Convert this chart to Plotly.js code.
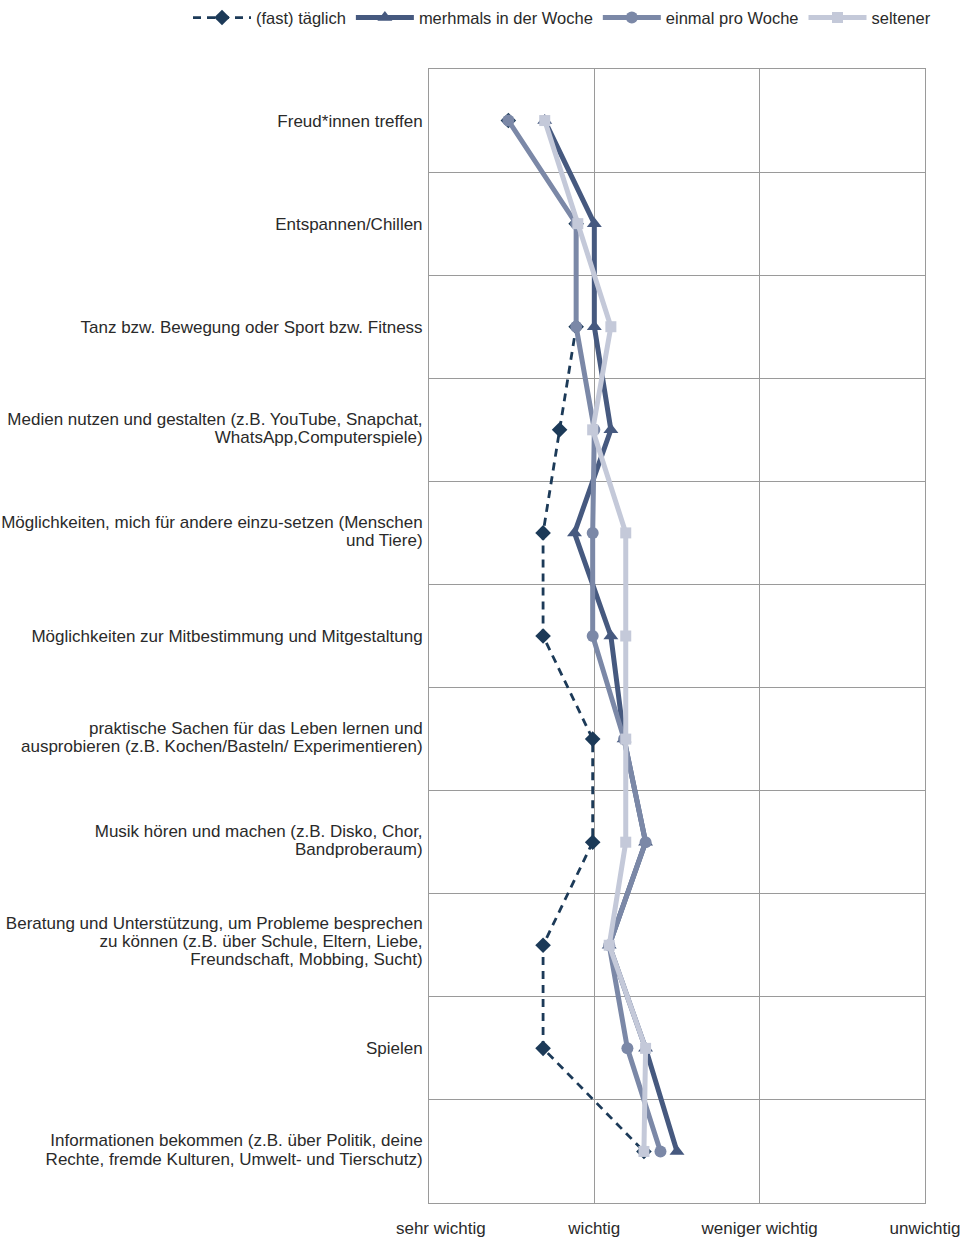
<!DOCTYPE html>
<html>
<head>
<meta charset="utf-8">
<script src="https://cdn.plot.ly/plotly-3.0.1.min.js"></script>
<style>
html,body{margin:0;padding:0;background:#fff;}
#chart{width:964px;height:1240px;}
</style>
</head>
<body>
<div id="chart"></div>
<script>
const categories = [
  "Freud*innen treffen",
  "Entspannen/Chillen",
  "Tanz bzw. Bewegung oder Sport bzw. Fitness",
  "Medien nutzen und gestalten (z.B. YouTube, Snapchat,<br>WhatsApp,Computerspiele)",
  "Möglichkeiten, mich für andere einzu-setzen (Menschen<br>und Tiere)",
  "Möglichkeiten zur Mitbestimmung und Mitgestaltung",
  "praktische Sachen für das Leben lernen und<br>ausprobieren (z.B. Kochen/Basteln/ Experimentieren)",
  "Musik hören und machen (z.B. Disko, Chor,<br>Bandproberaum)",
  "Beratung und Unterstützung, um Probleme besprechen<br>zu können (z.B. über Schule, Eltern, Liebe,<br>Freundschaft, Mobbing, Sucht)",
  "Spielen",
  "Informationen bekommen (z.B. über Politik, deine<br>Rechte, fremde Kulturen, Umwelt- und Tierschutz)"
];
const rowIndex = [1,2,3,4,5,6,7,8,9,10,11];

const taeglich  = [1.48, 1.89, 1.89, 1.79, 1.69, 1.69, 1.99, 1.99, 1.69, 1.69, 2.30];
const mehrmals  = [1.70, 2.00, 2.00, 2.10, 1.88, 2.10, 2.18, 2.31, 2.09, 2.31, 2.50];
const einmal    = [1.48, 1.89, 1.89, 2.00, 1.99, 1.99, 2.18, 2.31, 2.09, 2.20, 2.40];
const seltener  = [1.70, 1.90, 2.10, 1.99, 2.19, 2.19, 2.19, 2.19, 2.09, 2.31, 2.30];

const seriesNames = ["(fast) täglich", "merhmals in der Woche", "einmal pro Woche", "seltener"];
const xTickVals = [1, 2, 3, 4];
const xTickText = ["\u00a0\u00a0\u00a0\u00a0\u00a0sehr wichtig", "wichtig", "weniger wichtig", "unwichtig"];

const colors = ["#1c3a58", "#46597f", "#7b88a7", "#c4c9d9"];
const FONT = "Liberation Sans, Arial, sans-serif";
const TEXTCOLOR = "#2a2a2a";

const traces = [
  {x: taeglich, y: rowIndex, name: seriesNames[0], mode: "lines+markers",
   line: {color: colors[0], width: 2.8, dash: "8px,6px"},
   marker: {symbol: "diamond", size: 12, color: colors[0]}},
  {x: mehrmals, y: rowIndex, name: seriesNames[1], mode: "lines+markers",
   line: {color: colors[1], width: 5},
   marker: {symbol: "triangle-up", size: 13, color: colors[1]}},
  {x: einmal, y: rowIndex, name: seriesNames[2], mode: "lines+markers",
   line: {color: colors[2], width: 5},
   marker: {symbol: "circle", size: 12, color: colors[2]}},
  {x: seltener, y: rowIndex, name: seriesNames[3], mode: "lines+markers",
   line: {color: colors[3], width: 5},
   marker: {symbol: "square", size: 11, color: colors[3]}},
  {x: [1], y: [1], yaxis: "y2", mode: "markers", marker: {opacity: 0}, showlegend: false, hoverinfo: "skip"}
];

const layout = {
  width: 964, height: 1240,
  margin: {l: 429, r: 39, t: 69, b: 37},
  paper_bgcolor: "#fff", plot_bgcolor: "#fff",
  font: {family: FONT, size: 17, color: TEXTCOLOR},
  showlegend: true,
  legend: {orientation: "h", xref: "paper", yref: "paper",
           x: (188-429)/496, xanchor: "left", y: 1.001, yanchor: "bottom",
           font: {family: FONT, size: 16.5, color: TEXTCOLOR},
           itemwidth: 58, tracegroupgap: 0, traceorder: "normal"},
  xaxis: {range: [1, 4], tickvals: xTickVals, ticktext: xTickText,
          showgrid: true, gridcolor: "#9a9a9a", gridwidth: 1,
          zeroline: false, showline: true, linecolor: "#9a9a9a", linewidth: 1, mirror: true,
          ticks: "", ticklabelstandoff: 10, tickfont: {family: FONT, size: 17, color: TEXTCOLOR}},
  yaxis: {range: [11.5, 0.5], tickvals: rowIndex, ticktext: categories,
          showgrid: false, zeroline: false, showline: true, linecolor: "#9a9a9a", linewidth: 1, mirror: true,
          ticks: "", ticklabelstandoff: 2, tickfont: {family: FONT, size: 17, color: TEXTCOLOR}},
  yaxis2: {overlaying: "y", range: [11.5, 0.5], tick0: 0.5, dtick: 1, showticklabels: false,
           showgrid: true, gridcolor: "#9a9a9a", gridwidth: 1, zeroline: false, ticks: ""}
};

Plotly.newPlot("chart", traces, layout, {displayModeBar: false, staticPlot: true}).then(function(gd){
  // tighten line spacing of multi-line category labels (reference uses ~1.06em)
  try {
    gd.querySelectorAll(".yaxislayer-above .ytick text").forEach(function(t){
      var lines = t.querySelectorAll("tspan.line");
      if (lines.length < 2) return;
      var b0 = t.getBBox(); var c0 = b0.y + b0.height/2;
      for (var i = 0; i < lines.length; i++) lines[i].setAttribute("dy", (i*1.07) + "em");
      var b1 = t.getBBox(); var c1 = b1.y + b1.height/2;
      var y = parseFloat(t.getAttribute("y") || "0");
      t.setAttribute("y", y + (c0 - c1));
    });
  } catch(e) {}
  // lift the legend into the top strip (text centred near y = 18 px, as in the reference)
  try {
    var lg = gd.querySelector("g.legend");
    var txt = lg.querySelector("text.legendtext");
    var r = txt.getBoundingClientRect();
    var dy = 18 - (r.top + r.height/2);
    var m = /translate\(\s*([-\d.]+)[ ,]+([-\d.]+)\s*\)/.exec(lg.getAttribute("transform") || "");
    if (m) lg.setAttribute("transform", "translate(" + m[1] + "," + (parseFloat(m[2]) + dy) + ")");
  } catch(e) {}
});
</script>
</body>
</html>
